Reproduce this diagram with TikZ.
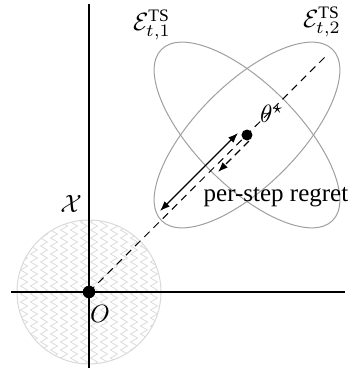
\documentclass[tikz,border=0pt]{standalone}
\usepackage{fontspec}
\setmainfont{Liberation Serif}
\usetikzlibrary{decorations.pathmorphing,arrows.meta}
\begin{document}
\begin{tikzpicture}[x=0.4pt,y=0.4pt,
  axis/.style={black,line width=0.55pt},
  ell/.style={gray!75,line width=0.4pt},
  dot/.style={circle,fill=black,inner sep=0pt,minimum size=#1},
  zz/.style={gray!30,line width=0.3pt,decorate,decoration={zigzag,segment length=3.2pt,amplitude=1.4pt}},
  lbl/.style={inner sep=0pt},
  arr/.style={line width=0.5pt,{Latex[length=4pt,width=3pt]}-{Latex[length=4pt,width=3pt]}},
  darr/.style={line width=0.5pt,dashed,dash pattern=on 3pt off 2pt,-{Latex[length=4pt,width=3pt]}}]
\useasboundingbox (0,0) rectangle (354,368);
\coordinate (O) at (89,76);
\coordinate (T) at (247,233);
% shaded circle
\begin{scope}
  \clip (O) circle[radius=28.8pt];
  \foreach \x in {14,24,...,164} {
    \draw[zz] (\x,0) -- (\x,160);
  }
\end{scope}
\draw[gray!30,line width=0.4pt] (O) circle[radius=28.8pt];
% axes
\coordinate (XL) at (11,76);
\coordinate (XR) at (345,76);
\coordinate (YB) at (89,0);
\coordinate (YT) at (89,364);
\draw[axis] (XL) -- (XR);
\draw[axis] (YB) -- (YT);
% ellipses
\draw[ell,rotate around={-45:(T)}] (T) ellipse[x radius=48.4pt,y radius=20.4pt];
\draw[ell,rotate around={45:(T)}] (T) ellipse[x radius=48.4pt,y radius=20.4pt];
% dashed ray
\coordinate (R) at (327,313);
\draw[line width=0.4pt,dash pattern=on 3pt off 2.2pt] (O) -- (R);
% arrows
\coordinate (A1) at (238,235);
\coordinate (A2) at (160,157);
\draw[arr] (A2) -- (A1);
\coordinate (B1) at (249,227);
\coordinate (B2) at (218,196);
\draw[darr] (B1) -- (B2);
% dots
\node[dot=5pt] (o) at (O) {};
\node[dot=4.4pt] (t) at (T) {};
% labels
\node[lbl] (e1) at (152,343) {$\mathcal{E}_{t,1}^{\mathrm{TS}}$};
\node[lbl] (e2) at (322,346) {$\mathcal{E}_{t,2}^{\mathrm{TS}}$};
\node[lbl] (th) at (272,254) {$\theta^{\star}$};
\node[lbl] (xx) at (71,164) {$\mathcal{X}$};
\node[lbl] (ol) at (100,54) {$O$};
\node[lbl] (pr) at (276,171) {per-step regret};
\end{tikzpicture}
\end{document}
